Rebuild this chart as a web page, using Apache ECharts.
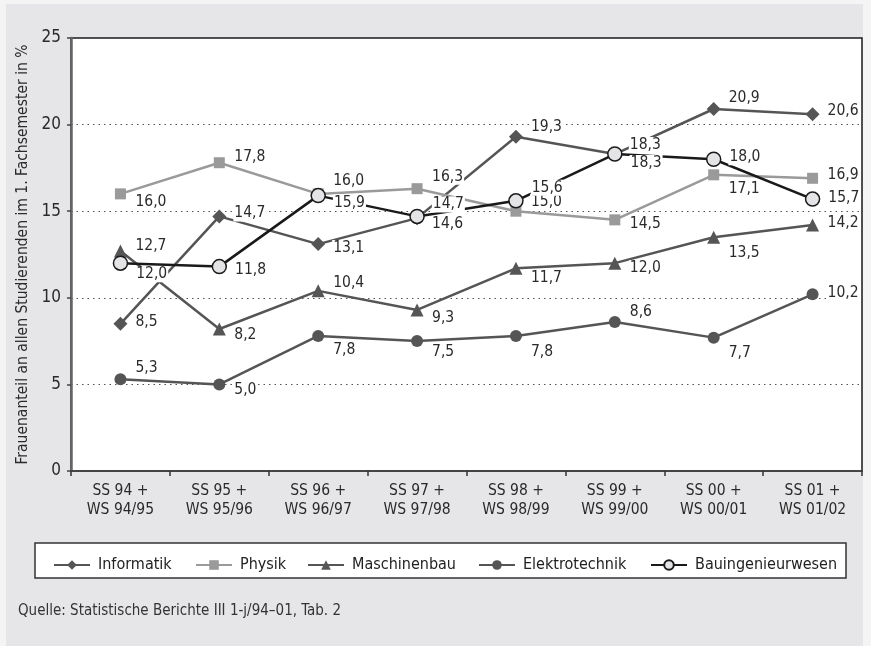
<!DOCTYPE html>
<html>
<head>
<meta charset="utf-8">
<script src="https://cdn.jsdelivr.net/npm/echarts@6/dist/echarts.min.js"></script>
<style>
  html, body { margin: 0; padding: 0; background: #f4f4f5; }
  #chart { width: 871px; height: 646px; }
</style>
</head>
<body>
<div id="chart"></div>
<script>
// Semester categories (x axis)
const categories = [
  'SS 94 +\nWS 94/95', 'SS 95 +\nWS 95/96', 'SS 96 +\nWS 96/97', 'SS 97 +\nWS 97/98',
  'SS 98 +\nWS 98/99', 'SS 99 +\nWS 99/00', 'SS 00 +\nWS 00/01', 'SS 01 +\nWS 01/02'
];

// Share of women among first-semester students, in %
const informatik       = [8.5, 14.7, 13.1, 14.6, 19.3, 18.3, 20.9, 20.6];
const physik           = [16.0, 17.8, 16.0, 16.3, 15.0, 14.5, 17.1, 16.9];
const maschinenbau     = [12.7, 8.2, 10.4, 9.3, 11.7, 12.0, 13.5, 14.2];
const elektrotechnik   = [5.3, 5.0, 7.8, 7.5, 7.8, 8.6, 7.7, 10.2];
const bauingenieurwesen = [12.0, 11.8, 15.9, 14.7, 15.6, 18.3, 18.0, 15.7];

// Y axis ticks
const yMin = 0, yMax = 25, yStep = 5;

// Vertical nudges for value labels so they do not collide
const infoLabelDy  = [-2, -3, 4, 6, -10, -9, -11, -3];
const physLabelDy  = [8, -6, -13, -12, -9, 4, 14, -3];
const maschLabelDy = [-5, 6, -8, 8, 10, 5, 16, -2];
const elekLabelDy  = [-11, 6, 14, 11, 16, -10, 15, -1];
const bauLabelDy   = [11, 3, 7, -12, -13, 9, -2, -1];

const FONT = '"Liberation Sans Narrow", "DejaVu Sans Condensed", "Open Sans", sans-serif';
const fmt = v => v.toFixed(1).replace('.', ',');

function makeSeries(name, values, dys, opts) {
  return {
    name: name,
    type: 'line',
    data: values.map((v, i) => ({ value: v, label: { offset: [0, dys[i]] } })),
    symbol: opts.symbol,
    symbolSize: opts.size,
    lineStyle: { color: opts.line, width: 2.5 },
    itemStyle: {
      color: opts.fill,
      borderColor: opts.border || opts.fill,
      borderWidth: opts.borderWidth || 0
    },
    label: {
      show: true,
      position: 'right',
      distance: 14 - opts.size / 2,
      formatter: p => fmt(p.value),
      fontFamily: FONT,
      fontSize: 15.5,
      color: '#2a2a2a',
      backgroundColor: '#ffffff',
      padding: [0, 1, 0, 1]
    },
    emphasis: { disabled: true },
    animation: false
  };
}

const series = [
  makeSeries('Informatik', informatik, infoLabelDy, { symbol: 'diamond', size: 14, line: '#555555', fill: '#555555' }),
  makeSeries('Physik', physik, physLabelDy, { symbol: 'rect', size: 11, line: '#9a9a9a', fill: '#9a9a9a' }),
  makeSeries('Maschinenbau', maschinenbau, maschLabelDy, { symbol: 'triangle', size: 13, line: '#555555', fill: '#555555' }),
  makeSeries('Elektrotechnik', elektrotechnik, elekLabelDy, { symbol: 'circle', size: 12, line: '#555555', fill: '#555555' }),
  makeSeries('Bauingenieurwesen', bauingenieurwesen, bauLabelDy, { symbol: 'circle', size: 14, line: '#1a1a1a', fill: '#e4e4e6', border: '#1a1a1a', borderWidth: 1.5 })
];

// One legend per entry so each sits at its own spot inside the framed box
const legendLefts = [48, 190, 302, 473, 645];
const legends = series.map((s, i) => ({
  data: [s.name],
  left: legendLefts[i],
  top: 552,
  itemWidth: 36,
  itemHeight: 12,
  selectedMode: false,
  textStyle: { fontFamily: FONT, fontSize: 16, color: '#222', padding: [0, 0, 0, 3] }
}));

const chart = echarts.init(document.getElementById('chart'), null, { renderer: 'canvas' });
chart.setOption({
  backgroundColor: 'transparent',
  animation: false,
  textStyle: { fontFamily: FONT },
  graphic: [
    { type: 'rect', z: -10, shape: { x: 6, y: 4, width: 857, height: 642 }, style: { fill: '#e6e6e8' } },
    { type: 'rect', z: -5, shape: { x: 35, y: 543, width: 811, height: 35 }, style: { fill: '#ffffff', stroke: '#333333', lineWidth: 1.5 } },
    { type: 'text', left: 18, top: 604, style: { text: 'Quelle: Statistische Berichte III 1-j/94–01, Tab. 2', font: '15px ' + FONT, fill: '#333333' } }
  ],
  legend: legends,
  grid: {
    left: 71, top: 38, right: 9, bottom: 175,
    show: true, backgroundColor: '#ffffff', borderColor: '#1a1a1a', borderWidth: 1.5
  },
  xAxis: {
    type: 'category',
    data: categories,
    boundaryGap: true,
    axisLine: { lineStyle: { color: '#444444', width: 2 } },
    axisTick: { show: true, length: 5, lineStyle: { color: '#333333', width: 1.5 } },
    axisLabel: { interval: 0, fontFamily: FONT, fontSize: 15.5, lineHeight: 19, color: '#2a2a2a', margin: 10 },
    splitLine: { show: false }
  },
  yAxis: {
    type: 'value',
    min: yMin, max: yMax, interval: yStep,
    name: 'Frauenanteil an allen Studierenden im 1. Fachsemester in %',
    nameLocation: 'middle',
    nameRotate: 90,
    nameGap: 40,
    nameTextStyle: { fontFamily: FONT, fontSize: 15.5, color: '#2a2a2a' },
    axisLine: { show: true, lineStyle: { color: '#666666', width: 2.5 } },
    axisTick: { show: true, length: 4, lineStyle: { color: '#444444', width: 1.5 } },
    axisLabel: { fontFamily: FONT, fontSize: 17, color: '#2a2a2a', margin: 10 },
    splitLine: { show: true, lineStyle: { color: '#555555', width: 1, type: [1.5, 4] } }
  },
  series: series
});
</script>
</body>
</html>
